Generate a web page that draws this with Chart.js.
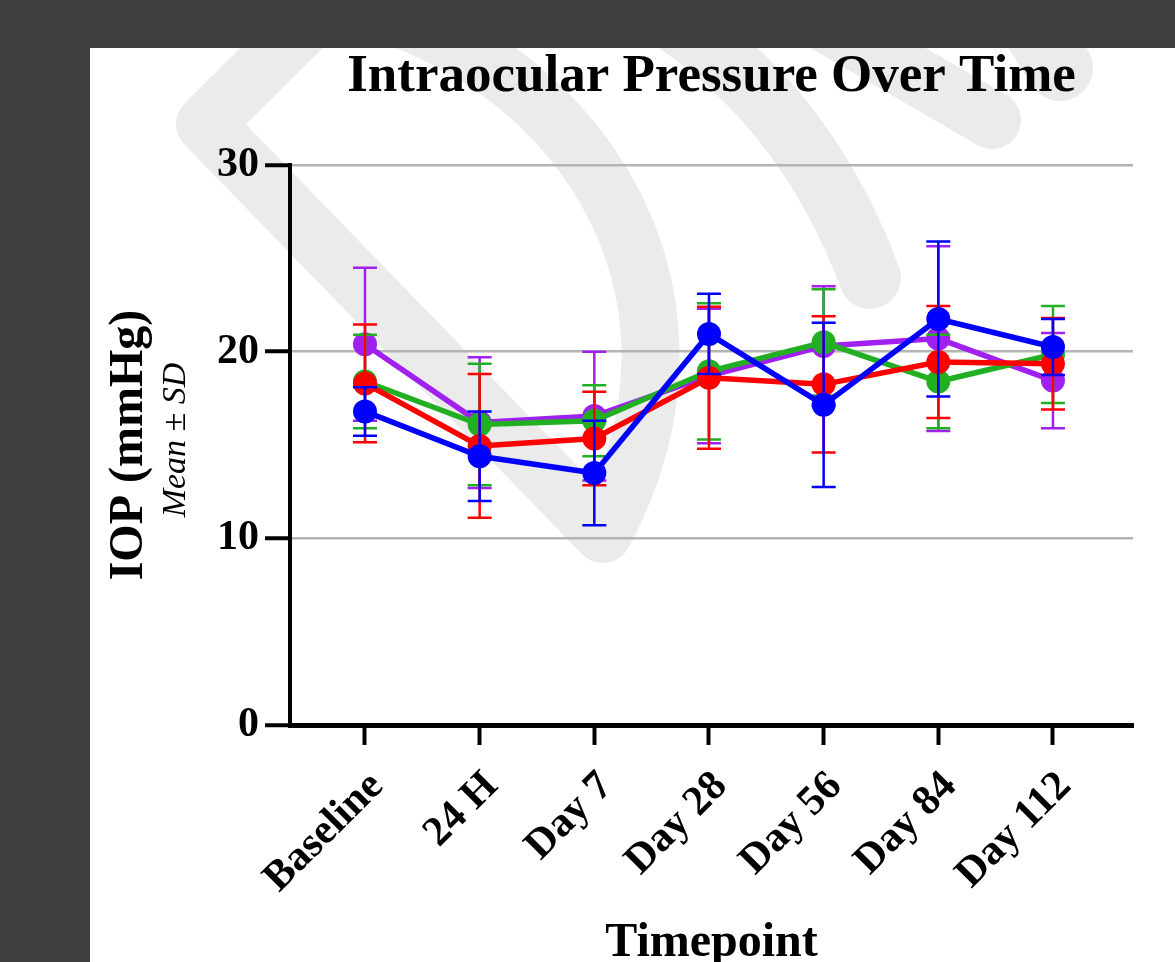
<!DOCTYPE html>
<html><head><meta charset="utf-8">
<script src="https://cdn.jsdelivr.net/npm/chart.js@4"></script>
<style>html,body{margin:0;padding:0;background:#404040;overflow:hidden}canvas{display:block}</style>
</head><body>
<canvas id="c" width="1175" height="962"></canvas>
<script>
// ---- data ----
const categories = ['Baseline', '24 H', 'Day 7', 'Day 28', 'Day 56', 'Day 84', 'Day 112'];
const yTicks = [0, 10, 20, 30];

const purpleMean = [20.4, 16.2, 16.55, 18.7, 20.3, 20.7, 18.45];
const purpleSD   = [4.1, 3.5, 3.45, 3.6, 3.2, 4.95, 2.55];
const greenMean  = [18.4, 16.1, 16.3, 18.95, 20.5, 18.4, 19.85];
const greenSD    = [2.5, 3.25, 1.9, 3.65, 2.85, 2.5, 2.6];
const redMean    = [18.3, 14.95, 15.35, 18.6, 18.25, 19.45, 19.35];
const redSD      = [3.15, 3.85, 2.5, 3.8, 3.65, 3.0, 2.45];
const blueMean   = [16.8, 14.4, 13.5, 20.95, 17.15, 21.75, 20.25];
const blueSD     = [1.3, 2.4, 2.8, 2.15, 4.4, 4.15, 1.5];

const SERIF = '"Liberation Serif", "Times New Roman", serif';
const toPts = arr => arr.map((v, i) => ({x: i, y: v}));
const errors = [purpleSD, greenSD, redSD, blueSD];

function series(label, mean, color, order) {
  return {
    label, data: toPts(mean), borderColor: color, backgroundColor: color,
    pointBackgroundColor: color, pointBorderColor: color, pointBorderWidth: 0,
    pointRadius: 12, pointHoverRadius: 12, borderWidth: 5.5, tension: 0, order
  };
}

const panelPlugin = {
  id: 'panel',
  beforeDraw(chart) {
    const ctx = chart.ctx;
    ctx.save();
    ctx.fillStyle = '#404040'; ctx.fillRect(0, 0, 1175, 962);
    ctx.fillStyle = '#ffffff'; ctx.fillRect(90, 48, 1085, 914);
    ctx.beginPath(); ctx.rect(90, 48, 1085, 914); ctx.clip();
    ctx.strokeStyle = '#ebebeb'; ctx.lineCap = 'round'; ctx.lineJoin = 'round';
    ctx.lineWidth = 58;
    ctx.beginPath();
    ctx.moveTo(330, 0);
    ctx.bezierCurveTo(560, 40, 740, 280, 603, 534);
    ctx.lineTo(205, 124);
    ctx.lineTo(330, 0);
    ctx.stroke();
    ctx.lineWidth = 62;
    ctx.beginPath(); ctx.moveTo(640, 0); ctx.quadraticCurveTo(800, 90, 870, 278); ctx.stroke();
    ctx.lineWidth = 58;
    ctx.beginPath(); ctx.moveTo(820, 20); ctx.lineTo(992, 120); ctx.stroke();
    ctx.lineWidth = 66;
    ctx.beginPath(); ctx.moveTo(1030, 20); ctx.lineTo(1060, 68); ctx.stroke();
    ctx.restore();
  }
};

const errPlugin = {
  id: 'errbars',
  beforeDatasetDraw(chart, args) {
    const ds = chart.data.datasets[args.index];
    const sd = errors[args.index];
    const ys = chart.scales.y;
    const ctx = chart.ctx;
    ctx.save();
    ctx.strokeStyle = ds.borderColor; ctx.lineWidth = 2.5; ctx.lineCap = 'butt';
    args.meta.data.forEach((pt, i) => {
      const m = ds.data[i].y, s = sd[i];
      const yt = ys.getPixelForValue(m + s), yb = ys.getPixelForValue(m - s);
      ctx.beginPath();
      ctx.moveTo(pt.x, yt); ctx.lineTo(pt.x, yb);
      ctx.moveTo(pt.x - 12, yt); ctx.lineTo(pt.x + 12, yt);
      ctx.moveTo(pt.x - 12, yb); ctx.lineTo(pt.x + 12, yb);
      ctx.stroke();
    });
    ctx.restore();
  }
};

const subTitlePlugin = {
  id: 'subtitleY',
  afterDraw(chart) {
    const ctx = chart.ctx;
    const a = chart.chartArea;
    ctx.save();
    ctx.translate(176, (a.top + a.bottom) / 2 - 5);
    ctx.rotate(-Math.PI / 2);
    ctx.font = 'italic 34px ' + SERIF;
    ctx.fillStyle = '#000';
    ctx.textAlign = 'center'; ctx.textBaseline = 'middle';
    ctx.fillText('Mean \u00B1 SD', 0, 0);
    ctx.restore();
  }
};

new Chart(document.getElementById('c'), {
  type: 'line',
  data: {
    datasets: [
      series('Purple', purpleMean, '#a020f0', 4),
      series('Green', greenMean, '#22b022', 3),
      series('Red', redMean, '#ff0000', 2),
      series('Blue', blueMean, '#0000ff', 1)
    ]
  },
  plugins: [panelPlugin, errPlugin, subTitlePlugin],
  options: {
    responsive: false, animation: false, events: [],
    layout: {padding: {left: 90, right: 42, top: 46, bottom: 0}},
    plugins: {
      legend: {display: false}, tooltip: {enabled: false},
      title: {
        display: true, text: 'Intraocular Pressure Over Time', fullSize: false,
        color: '#000', font: {family: SERIF, size: 53, weight: 'bold', lineHeight: 1.2},
        padding: {top: 0, bottom: 55.4}
      }
    },
    scales: {
      x: {
        type: 'linear', min: -0.654, max: 6.698,
        afterBuildTicks: s => { s.ticks = categories.map((_, i) => ({value: i})); },
        afterFit: s => { s.height = 237; },
        border: {display: true, color: '#000', width: 5},
        grid: {display: true, drawOnChartArea: false, drawTicks: true, tickLength: 20, tickColor: '#000', tickWidth: 4},
        ticks: {autoSkip: false, maxRotation: 45, minRotation: 45, padding: 17, labelOffset: 12, color: '#000',
                font: {family: SERIF, size: 42, weight: 'bold'}, callback: v => categories[v]},
        title: {display: true, text: 'Timepoint', color: '#000',
                font: {family: SERIF, size: 48, weight: 'bold', lineHeight: 0.75}, padding: {top: 0, bottom: 0}}
      },
      y: {
        min: 0, max: 30,
        afterBuildTicks: s => { s.ticks = yTicks.map(v => ({value: v})); },
        afterFit: s => { s.width = 200; },
        border: {display: true, color: '#000', width: 4},
        grid: {color: c => (c.tick && c.tick.value === 0) ? 'rgba(0,0,0,0)' : '#b4b4b4',
               lineWidth: 2.5, drawTicks: true, tickColor: '#000', tickWidth: 4, tickLength: 25},
        ticks: {padding: 6, color: '#000', font: {family: SERIF, size: 42, weight: 'bold'}},
        title: {display: true, text: 'IOP (mmHg)', color: '#000',
                font: {family: SERIF, size: 48, weight: 'bold', lineHeight: 1}, padding: {top: 16, bottom: 0}}
      }
    }
  }
});
</script>
</body></html>
